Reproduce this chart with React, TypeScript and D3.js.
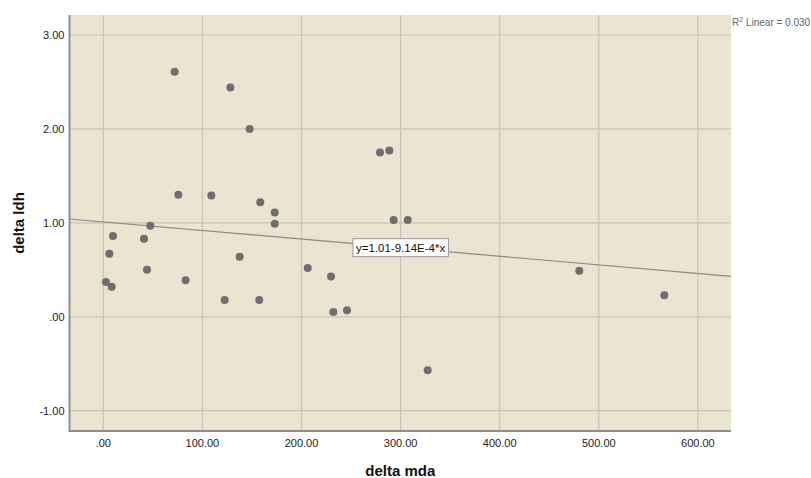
import React, { useEffect, useRef } from 'react';
import * as d3 from 'd3';

// delta mda (x) and delta ldh (y)
const deltaMda = [
  72.0, 128.2, 147.7, 75.7, 109.0, 158.4, 173.0, 173.0, 47.4, 9.8,
  41.1, 6.1, 44.1, 2.7, 8.5, 83.1, 137.6, 122.5, 157.4, 206.3,
  229.8, 232.1, 245.9, 279.2, 288.6, 293.0, 307.2, 327.3, 480.3, 566.1,
];
const deltaLdh = [
  2.61, 2.44, 2.0, 1.3, 1.29, 1.22, 1.11, 0.99, 0.97, 0.86,
  0.83, 0.67, 0.5, 0.37, 0.32, 0.39, 0.64, 0.18, 0.18, 0.52,
  0.43, 0.05, 0.07, 1.75, 1.77, 1.03, 1.03, -0.57, 0.49, 0.23,
];
const xTicks = [0, 100, 200, 300, 400, 500, 600];
const yTicks = [-1, 0, 1, 2, 3];
const fitIntercept = 1.01;
const fitSlope = -9.14e-4;
const fitLabel = 'y=1.01-9.14E-4*x';
const r2Value = '0.030';

const W = 811;
const H = 478;

// SPSS style: ".00", "-1.00"
const fmt = (v: number) => {
  const s = d3.format('.2f')(v).replace('\u2212', '-');
  return s.replace(/^0\./, '.').replace(/^-0\./, '-.');
};

const App = () => {
  const svgRef = useRef<SVGSVGElement>(null);

  useEffect(() => {
    const svg = d3.select(svgRef.current);
    svg.selectAll('*').remove();

    const left = 69.5, right = 731, top = 15, bottom = 431;

    const x = d3.scaleLinear().domain([-34.1, 633.4]).range([left, right]);
    const y = d3.scaleLinear().domain([-1.216, 3.213]).range([bottom, top]);

    // plot background
    svg.append('rect')
      .attr('x', left).attr('y', top)
      .attr('width', right - left).attr('height', bottom - top)
      .attr('fill', '#ebe4d0');

    // grid
    svg.append('g').selectAll('line')
      .data(xTicks).join('line')
      .attr('x1', d => x(d)).attr('x2', d => x(d))
      .attr('y1', top).attr('y2', bottom)
      .attr('stroke', '#c6c3bb').attr('stroke-width', 1.2);
    svg.append('g').selectAll('line')
      .data(yTicks).join('line')
      .attr('x1', left).attr('x2', right)
      .attr('y1', d => y(d)).attr('y2', d => y(d))
      .attr('stroke', '#c6c3bb').attr('stroke-width', 1.2);

    // axes lines
    svg.append('line')
      .attr('x1', left).attr('x2', left).attr('y1', top).attr('y2', bottom + 1)
      .attr('stroke', '#8e8e8e').attr('stroke-width', 2);
    svg.append('line')
      .attr('x1', left).attr('x2', right).attr('y1', bottom).attr('y2', bottom)
      .attr('stroke', '#8e8e8e').attr('stroke-width', 2);

    // tick labels
    svg.append('g').selectAll('text')
      .data(yTicks).join('text')
      .attr('x', left - 5).attr('y', d => y(d) + 4)
      .attr('text-anchor', 'end')
      .attr('font-family', 'Liberation Sans, Arial, sans-serif')
      .attr('font-size', 11).attr('fill', '#222')
      .text(d => fmt(d));
    svg.append('g').selectAll('text')
      .data(xTicks).join('text')
      .attr('x', d => x(d)).attr('y', 447)
      .attr('text-anchor', 'middle')
      .attr('font-family', 'Liberation Sans, Arial, sans-serif')
      .attr('font-size', 11).attr('fill', '#222')
      .text(d => fmt(d));

    // axis titles
    svg.append('text')
      .attr('x', (left + right) / 2).attr('y', 476)
      .attr('text-anchor', 'middle')
      .attr('font-family', 'Liberation Sans, Arial, sans-serif')
      .attr('font-size', 15).attr('font-weight', 'bold').attr('fill', '#111')
      .text('delta mda');
    svg.append('text')
      .attr('transform', `translate(24,${(top + bottom) / 2}) rotate(-90)`)
      .attr('text-anchor', 'middle')
      .attr('font-family', 'Liberation Sans, Arial, sans-serif')
      .attr('font-size', 15).attr('font-weight', 'bold').attr('fill', '#111')
      .text('delta ldh');

    // fit line
    const [x0, x1] = x.domain();
    svg.append('line')
      .attr('x1', x(x0)).attr('y1', y(fitIntercept + fitSlope * x0))
      .attr('x2', x(x1)).attr('y2', y(fitIntercept + fitSlope * x1))
      .attr('stroke', '#888').attr('stroke-width', 1.2);

    // points
    svg.append('g').selectAll('circle')
      .data(deltaMda.map((v, i) => [v, deltaLdh[i]]))
      .join('circle')
      .attr('cx', d => x(d[0])).attr('cy', d => y(d[1]))
      .attr('r', 4)
      .attr('fill', '#6e6e6e');

    // fit label box
    const lx = x(300), ly = y(fitIntercept + fitSlope * 300);
    const lab = svg.append('g');
    const t = lab.append('text')
      .attr('x', lx).attr('y', ly + 4)
      .attr('text-anchor', 'middle')
      .attr('font-family', 'Liberation Sans, Arial, sans-serif')
      .attr('font-size', 11.5).attr('fill', '#111')
      .text(fitLabel);
    const bb = (t.node() as SVGTextElement).getBBox();
    lab.insert('rect', 'text')
      .attr('x', bb.x - 3).attr('y', ly - 9)
      .attr('width', bb.width + 6).attr('height', 18)
      .attr('fill', '#fff').attr('stroke', '#999');

    // R2 annotation, squeezed in beside the plot's right edge
    const r2 = svg.append('text')
      .attr('x', right + 1).attr('y', 26)
      .attr('font-family', 'Liberation Sans, Arial, sans-serif')
      .attr('font-size', 10).attr('fill', '#666');
    r2.append('tspan').text('R');
    r2.append('tspan').attr('font-size', 7).attr('dy', -4).text('2');
    r2.append('tspan').attr('dy', 4).text(` Linear = ${r2Value}`);
  }, []);

  return (
    <svg
      ref={svgRef}
      width={W}
      height={H}
      style={{ position: 'absolute', left: 0, top: 0, background: '#fff' }}
    />
  );
};

export default App;
